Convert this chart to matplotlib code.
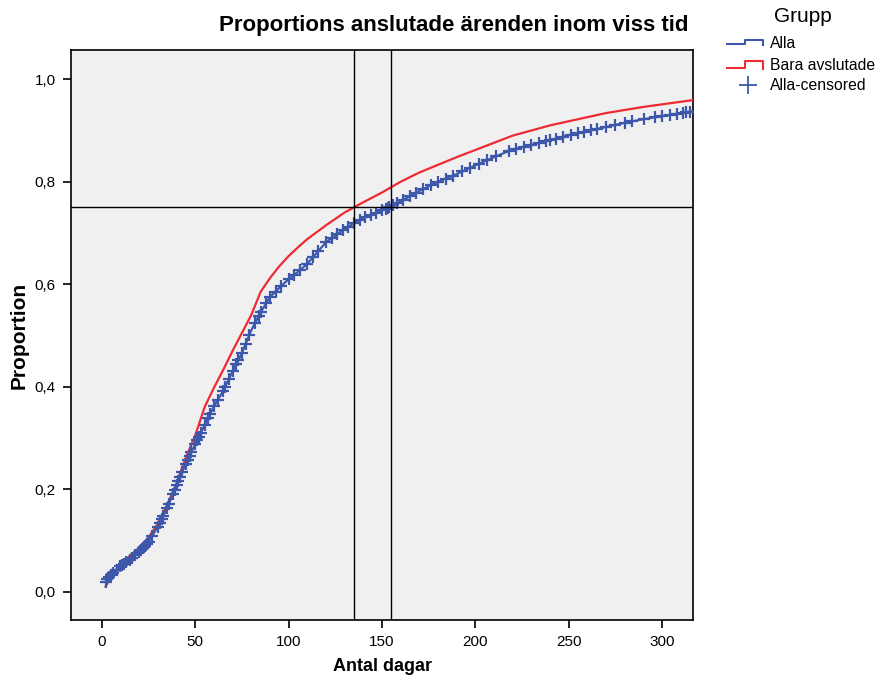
import numpy as np
import matplotlib.pyplot as plt
from matplotlib.lines import Line2D

plt.rcParams['font.family'] = ['Liberation Sans', 'DejaVu Sans']

# cumulative proportion
days = [2, 5, 10, 15, 20, 25, 30, 35, 40, 45, 50, 55, 60, 65, 70, 75, 80, 85, 90, 95,
        100, 105, 110, 120, 130, 140, 150, 160, 170, 180, 190, 200, 210, 220, 230, 240,
        250, 260, 270, 280, 290, 300, 310, 316]
alla = [0.020, 0.033, 0.050, 0.063, 0.078, 0.098, 0.127, 0.163, 0.208, 0.250, 0.288,
        0.325, 0.362, 0.392, 0.430, 0.466, 0.510, 0.545, 0.575, 0.593, 0.610, 0.624,
        0.640, 0.682, 0.708, 0.730, 0.744, 0.762, 0.782, 0.800, 0.815, 0.832, 0.848,
        0.863, 0.872, 0.881, 0.891, 0.899, 0.907, 0.915, 0.922, 0.928, 0.934, 0.937]
bara = [0.010, 0.030, 0.055, 0.070, 0.086, 0.106, 0.133, 0.170, 0.212, 0.262, 0.305,
        0.360, 0.398, 0.433, 0.470, 0.505, 0.540, 0.585, 0.612, 0.635, 0.655, 0.672,
        0.688, 0.715, 0.740, 0.760, 0.779, 0.800, 0.818, 0.833, 0.848, 0.862, 0.876,
        0.890, 0.900, 0.910, 0.918, 0.926, 0.934, 0.940, 0.946, 0.951, 0.956, 0.959]
censor_days = [2, 3, 4, 5, 6, 8, 10, 11, 12, 13, 15, 16, 18, 20, 21, 22, 23, 24, 25, 27,
               30, 31, 32, 33, 35, 36, 38, 39, 40, 41, 42, 43, 45, 46, 47, 48, 50, 51, 52,
               53, 55, 57, 58, 60, 62, 65, 66, 68, 70, 72, 73, 75, 77, 79, 82, 84, 85, 88,
               90, 93, 96, 100, 103, 106, 110, 113, 116, 120, 123, 126, 129, 132, 135,
               138, 141, 144, 147, 150, 152, 153, 154, 156, 158, 161, 165, 168, 172, 176,
               180, 184, 188, 193, 197, 202, 206, 211, 218, 222, 226, 230, 234, 238, 240,
               243, 247, 251, 255, 258, 262, 265, 270, 275, 280, 284, 290, 296, 300, 304,
               308, 311, 313, 315]
ref_days = [135, 155]
ref_prop = 0.75

blue = '#3d58aa'
red = '#ee2a33'

fig = plt.figure(figsize=(8.8, 6.79), dpi=100)
ax = fig.add_axes([71 / 880, 1 - 620 / 679, (693 - 71) / 880, (620 - 50) / 679])
ax.set_facecolor('#f0f0f0')

ax.plot(days, bara, color=red, lw=1.6, zorder=3)
ax.plot(days, alla, color=blue, lw=1.6, zorder=4)
cy = np.interp(censor_days, days, alla)
ax.plot(censor_days, cy, ls='none', marker='+', ms=9, mew=1.6, color=blue, zorder=5)

for d in ref_days:
    ax.axvline(d, color='black', lw=1, zorder=6)
ax.axhline(ref_prop, color='black', lw=1, zorder=6)

ax.set_xlim(-16.5, 316.5)
ax.set_ylim(-0.055, 1.057)
ax.set_xticks([0, 50, 100, 150, 200, 250, 300])
yt = [0.0, 0.2, 0.4, 0.6, 0.8, 1.0]
ax.set_yticks(yt)
ax.set_yticklabels([f'{v:.1f}'.replace('.', ',') for v in yt])
ax.tick_params(direction='out', length=6, width=1.2, labelsize=11, color='black', pad=5)
for s in ax.spines.values():
    s.set_linewidth(1.2)
ax.set_xlabel('Antal dagar', fontsize=13, fontweight='bold', labelpad=6)
ax.set_ylabel('Proportion', fontsize=15, fontweight='bold', labelpad=4)

fig.text(454 / 880, 1 - 26 / 679, 'Proportions anslutade ärenden inom viss tid',
         ha='center', va='center', fontsize=16, fontweight='bold')

# legend drawn by hand to get the step-shaped handles
lg = fig.add_axes([0, 0, 1, 1])
lg.set_xlim(0, 880)
lg.set_ylim(679, 0)
lg.axis('off')
lg.text(803, 16, 'Grupp', ha='center', va='center', fontsize=15)
for y0, y1, c, lab in [(44, 40, blue, 'Alla'), (68, 61, red, 'Bara avslutade')]:
    lg.add_line(Line2D([727, 745, 745, 763, 763], [y0, y0, y1, y1, y0 + 1],
                       color=c, lw=1.5))
    lg.text(770, (y0 + y1) / 2 + 1, lab, ha='left', va='center', fontsize=11.3)
lg.plot([748], [85], marker='+', ms=13, mew=1.3, color=blue)
lg.text(770, 85, 'Alla-censored', ha='left', va='center', fontsize=11.3)

fig.savefig('out.png', dpi=100)
